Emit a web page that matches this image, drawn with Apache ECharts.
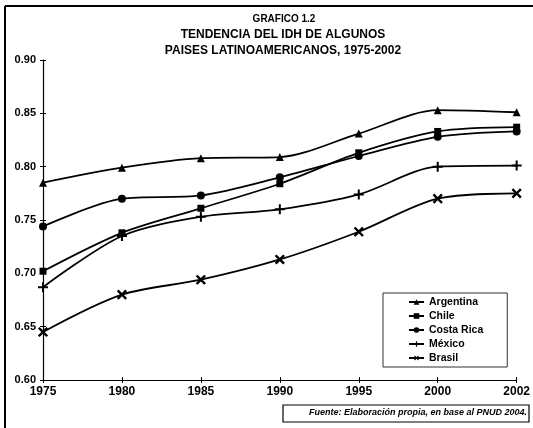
<!DOCTYPE html>
<html>
<head>
<meta charset="utf-8">
<script src="https://cdn.jsdelivr.net/npm/echarts@6/dist/echarts.min.js"></script>
<style>
  html, body { margin: 0; padding: 0; background: #fff; }
  #chart { width: 533px; height: 428px; }
</style>
</head>
<body>
<div id="chart"></div>
<script>
const years = ['1975', '1980', '1985', '1990', '1995', '2000', '2002'];
const argentina = [0.785, 0.799, 0.808, 0.809, 0.831, 0.853, 0.851];
const chile = [0.702, 0.738, 0.761, 0.784, 0.813, 0.833, 0.837];
const costaRica = [0.744, 0.770, 0.773, 0.790, 0.810, 0.828, 0.833];
const mexico = [0.687, 0.735, 0.753, 0.760, 0.774, 0.800, 0.801];
const brasil = [0.645, 0.680, 0.694, 0.713, 0.739, 0.770, 0.775];

const plusPath = 'path://M4,0h2v4h4v2h-4v4h-2v-4h-4v-2h4z';
const font = 'Liberation Sans, Arial, sans-serif';

const chart = echarts.init(document.getElementById('chart'), null, { renderer: 'canvas' });

function line(name, data, symbol, size, rotate) {
  return {
    name: name,
    type: 'line',
    data: data,
    smooth: 0.3,
    symbol: symbol,
    symbolSize: size,
    symbolRotate: rotate || 0,
    showAllSymbol: true,
    lineStyle: { color: '#000', width: 1.8 },
    itemStyle: { color: '#000' }
  };
}

const option = {
  backgroundColor: '#fff',
  animation: false,
  title: [
    {
      text: 'GRAFICO 1.2',
      left: 279, top: 9, textAlign: 'center',
      textStyle: { fontFamily: font, fontSize: 10, fontWeight: 'bold', color: '#000' }
    },
    {
      text: 'TENDENCIA DEL IDH DE ALGUNOS\nPAISES LATINOAMERICANOS, 1975-2002',
      left: 278, top: 22, textAlign: 'center',
      textStyle: { fontFamily: font, fontSize: 12, fontWeight: 'bold', color: '#000', lineHeight: 16 }
    }
  ],
  grid: { left: 43, right: 16, top: 60, bottom: 48 },
  legend: {
    orient: 'vertical',
    left: 383, top: 293,
    padding: [3, 24, 3, 25],
    itemWidth: 15, itemHeight: 7, itemGap: 2,
    borderColor: '#333', borderWidth: 1,
    textStyle: { fontFamily: font, fontSize: 10.5, fontWeight: 'bold', color: '#000', lineHeight: 12 },
    data: ['Argentina', 'Chile', 'Costa Rica', 'México', 'Brasil']
  },
  xAxis: [
    {
      type: 'category', data: years, boundaryGap: false,
      axisLine: { lineStyle: { color: '#000', width: 1.2 } },
      axisTick: { length: 3, lineStyle: { color: '#000' } },
      axisLabel: { fontFamily: font, fontSize: 12, fontWeight: 'bold', color: '#000', margin: 6 }
    },
    {
      type: 'category', data: years, boundaryGap: false, position: 'bottom',
      axisLine: { show: false },
      axisTick: { inside: true, length: 3, lineStyle: { color: '#000' } },
      axisLabel: { show: false }
    }
  ],
  yAxis: [
    {
      type: 'value', min: 0.60, max: 0.90, interval: 0.05,
      splitLine: { show: false },
      axisLine: { show: true, lineStyle: { color: '#000', width: 1.2 } },
      axisTick: { show: true, length: 3, lineStyle: { color: '#000' } },
      axisLabel: {
        fontFamily: font, fontSize: 11, fontWeight: 'bold', color: '#000', margin: 7,
        formatter: v => v.toFixed(2)
      }
    },
    {
      type: 'value', min: 0.60, max: 0.90, interval: 0.05, position: 'left',
      splitLine: { show: false },
      axisLine: { show: false },
      axisTick: { show: true, inside: true, length: 3, lineStyle: { color: '#000' } },
      axisLabel: { show: false }
    }
  ],
  series: [
    line('Argentina', argentina, 'triangle', 8),
    line('Chile', chile, 'rect', 7),
    line('Costa Rica', costaRica, 'circle', 8),
    line('México', mexico, plusPath, 10),
    line('Brasil', brasil, plusPath, 12, 45)
  ],
  graphic: [
    // outer frame (top and left edges)
    { type: 'line', shape: { x1: 5, y1: 6, x2: 533, y2: 6 }, style: { stroke: '#000', lineWidth: 2 } },
    { type: 'line', shape: { x1: 5, y1: 6, x2: 5, y2: 428 }, style: { stroke: '#000', lineWidth: 2 } },
    // source box
    {
      type: 'rect', shape: { x: 283, y: 405, width: 246, height: 17 },
      style: { fill: '#fff', stroke: '#000', lineWidth: 1.2 }
    },
    {
      type: 'text', x: 527, y: 413,
      style: {
        text: 'Fuente: Elaboración propia, en base al PNUD 2004.',
        fontFamily: font, fontSize: 9, fontStyle: 'italic', fontWeight: 'bold',
        fill: '#000', align: 'right', verticalAlign: 'middle'
      }
    }
  ]
};

chart.setOption(option);
</script>
</body>
</html>
